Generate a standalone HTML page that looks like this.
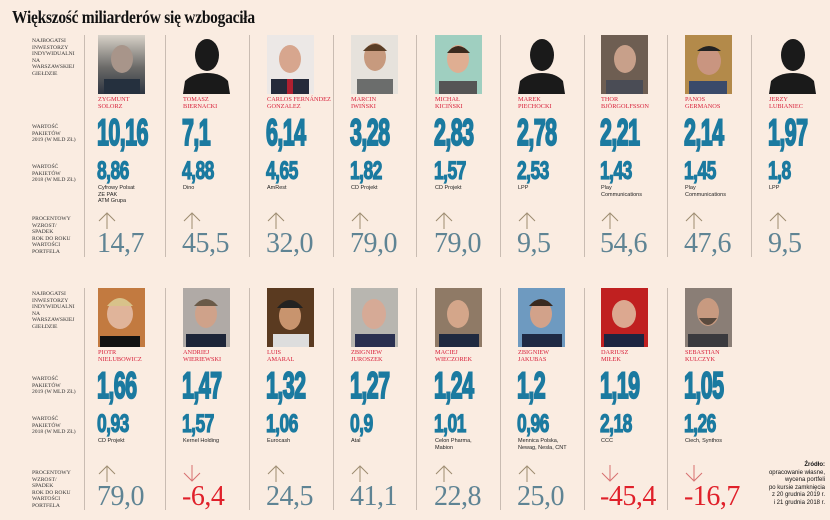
<!DOCTYPE html>
<html><head><meta charset="utf-8"><style>
body{margin:0;background:#faece1;}
#w{position:relative;width:830px;height:520px;overflow:hidden;background:#faece1;font-family:"Liberation Serif",serif;}
.t{position:absolute;left:12px;top:7px;font:bold 18px "Liberation Serif",serif;color:#111;letter-spacing:-0.3px;transform:scaleX(0.86);transform-origin:left;white-space:nowrap}
.lab{position:absolute;left:32px;font:5.6px/6.6px "Liberation Serif",serif;color:#333;text-transform:uppercase}
.ln{position:absolute;width:1px;background:#c9bcb2}
.col{position:absolute;width:80px}
.ph{position:absolute;left:0;top:0;width:47px;height:59px;overflow:hidden}
.nm{position:absolute;left:0;top:62px;font:6.3px/6.8px "Liberation Serif",serif;color:#d8203a;text-transform:uppercase;white-space:nowrap}
.b{position:absolute;left:-1px;top:79px;font:bold 37px/37px "Liberation Sans",sans-serif;color:#1b7aa0;letter-spacing:-1px;transform:scaleX(0.58);transform-origin:left;white-space:nowrap;-webkit-text-stroke:2px #1b7aa0}
.m{position:absolute;left:-1px;top:124px;font:bold 25px/25px "Liberation Sans",sans-serif;color:#1b7aa0;letter-spacing:-0.8px;transform:scaleX(0.7);transform-origin:left;white-space:nowrap;-webkit-text-stroke:1.2px #1b7aa0}
.c{position:absolute;left:0;top:150px;font:5.5px/6.6px "Liberation Sans",sans-serif;color:#222}
.ar{position:absolute;left:0;top:177px;width:18px;height:17px}
.p{position:absolute;left:-1px;top:195px;font:28px/28px "Liberation Serif",serif;color:#5f8494;letter-spacing:-0.5px}
.p.r{color:#e0202a}
.src{position:absolute;right:5px;top:462px;font:6px/7.6px "Liberation Sans",sans-serif;color:#111;text-align:right}
</style></head><body><div id="w">
<div class="t">Większość miliarderów się wzbogaciła</div>

<div class="lab" style="top:38px">Najbogatsi<br>inwestorzy<br>indywidualni<br>na<br>warszawskiej<br>giełdzie</div>
<div class="lab" style="top:124px">Wartość<br>pakietów<br>2019 (w mld zł)</div>
<div class="lab" style="top:164px">Wartość<br>pakietów<br>2018 (w mld zł)</div>
<div class="lab" style="top:216px">Procentowy<br>wzrost/<br>spadek<br>rok do roku<br>wartości<br>portfela</div>

<div class="lab" style="top:291px">Najbogatsi<br>inwestorzy<br>indywidualni<br>na<br>warszawskiej<br>giełdzie</div>
<div class="lab" style="top:376px">Wartość<br>pakietów<br>2019 (w mld zł)</div>
<div class="lab" style="top:416px">Wartość<br>pakietów<br>2018 (w mld zł)</div>
<div class="lab" style="top:470px">Procentowy<br>wzrost/<br>spadek<br>rok do roku<br>wartości<br>portfela</div>

<div class="ln" style="left:84px;top:35px;height:222px"></div>
<div class="ln" style="left:165px;top:35px;height:222px"></div>
<div class="ln" style="left:249px;top:35px;height:222px"></div>
<div class="ln" style="left:333px;top:35px;height:222px"></div>
<div class="ln" style="left:416px;top:35px;height:222px"></div>
<div class="ln" style="left:500px;top:35px;height:222px"></div>
<div class="ln" style="left:584px;top:35px;height:222px"></div>
<div class="ln" style="left:667px;top:35px;height:222px"></div>
<div class="ln" style="left:751px;top:35px;height:222px"></div>

<div class="ln" style="left:84px;top:288px;height:222px"></div>
<div class="ln" style="left:165px;top:288px;height:222px"></div>
<div class="ln" style="left:249px;top:288px;height:222px"></div>
<div class="ln" style="left:333px;top:288px;height:222px"></div>
<div class="ln" style="left:416px;top:288px;height:222px"></div>
<div class="ln" style="left:500px;top:288px;height:222px"></div>
<div class="ln" style="left:584px;top:288px;height:222px"></div>
<div class="ln" style="left:667px;top:288px;height:222px"></div>

<!-- row 1 -->
<div class="col" style="left:98px;top:35px">
<div class="ph" style="background:linear-gradient(#d8d2c8,#6b6a68 55%,#2d3440)"><svg width="47" height="59"><ellipse cx="24" cy="24" rx="11" ry="14" fill="#a8958a"/><rect x="6" y="44" width="36" height="15" fill="#25303e"/></svg></div>
<div class="nm">Zygmunt<br>Solorz</div><div class="b">10,16</div><div class="m">8,86</div>
<div class="c">Cyfrowy Polsat<br>ZE PAK<br>ATM Grupa</div><svg class="ar"><path d="M9 17V2M1 9L9 1L17 9" stroke="#9d8c70" fill="none" stroke-width="1"/></svg><div class="p">14,7</div></div>

<div class="col" style="left:183px;top:35px">
<div class="ph"><svg width="47" height="59"><ellipse cx="24" cy="20" rx="12" ry="16" fill="#1a1a1a"/><path d="M0 59 L2 46 Q10 38 24 38 Q38 38 45 46 L47 59Z" fill="#1a1a1a"/></svg></div>
<div class="nm">Tomasz<br>Biernacki</div><div class="b">7,1</div><div class="m">4,88</div>
<div class="c">Dino</div><svg class="ar"><path d="M9 17V2M1 9L9 1L17 9" stroke="#9d8c70" fill="none" stroke-width="1"/></svg><div class="p">45,5</div></div>

<div class="col" style="left:267px;top:35px">
<div class="ph" style="background:#ece8e6"><svg width="47" height="59"><ellipse cx="23" cy="24" rx="11" ry="14" fill="#d7a68e"/><rect x="4" y="44" width="38" height="15" fill="#252a3a"/><rect x="20" y="44" width="6" height="15" fill="#b02030"/></svg></div>
<div class="nm">Carlos Fernández<br>Gonzalez</div><div class="b">6,14</div><div class="m">4,65</div>
<div class="c">AmRest</div><svg class="ar"><path d="M9 17V2M1 9L9 1L17 9" stroke="#9d8c70" fill="none" stroke-width="1"/></svg><div class="p">32,0</div></div>

<div class="col" style="left:351px;top:35px">
<div class="ph" style="background:#e6e2dc"><svg width="47" height="59"><ellipse cx="24" cy="22" rx="11" ry="14" fill="#c79a7e"/><path d="M12 16 Q24 2 36 16" fill="#5a3e26"/><rect x="6" y="44" width="36" height="15" fill="#6b6d6c"/></svg></div>
<div class="nm">Marcin<br>Iwiński</div><div class="b">3,28</div><div class="m">1,82</div>
<div class="c">CD Projekt</div><svg class="ar"><path d="M9 17V2M1 9L9 1L17 9" stroke="#9d8c70" fill="none" stroke-width="1"/></svg><div class="p">79,0</div></div>

<div class="col" style="left:435px;top:35px">
<div class="ph" style="background:#9fcfc0"><svg width="47" height="59"><ellipse cx="23" cy="24" rx="11" ry="14" fill="#dfae92"/><path d="M12 18 Q23 4 35 18" fill="#3b2a1e"/><rect x="4" y="46" width="38" height="13" fill="#555"/></svg></div>
<div class="nm">Michał<br>Kiciński</div><div class="b">2,83</div><div class="m">1,57</div>
<div class="c">CD Projekt</div><svg class="ar"><path d="M9 17V2M1 9L9 1L17 9" stroke="#9d8c70" fill="none" stroke-width="1"/></svg><div class="p">79,0</div></div>

<div class="col" style="left:518px;top:35px">
<div class="ph"><svg width="47" height="59"><ellipse cx="24" cy="20" rx="12" ry="16" fill="#1a1a1a"/><path d="M0 59 L2 46 Q10 38 24 38 Q38 38 45 46 L47 59Z" fill="#1a1a1a"/></svg></div>
<div class="nm">Marek<br>Piechocki</div><div class="b">2,78</div><div class="m">2,53</div>
<div class="c">LPP</div><svg class="ar"><path d="M9 17V2M1 9L9 1L17 9" stroke="#9d8c70" fill="none" stroke-width="1"/></svg><div class="p">9,5</div></div>

<div class="col" style="left:601px;top:35px">
<div class="ph" style="background:#6e5e52"><svg width="47" height="59"><ellipse cx="24" cy="24" rx="11" ry="14" fill="#c8a08a"/><rect x="5" y="45" width="37" height="14" fill="#4a4c55"/></svg></div>
<div class="nm">Thor<br>Björgolfsson</div><div class="b">2,21</div><div class="m">1,43</div>
<div class="c">Play<br>Communications</div><svg class="ar"><path d="M9 17V2M1 9L9 1L17 9" stroke="#9d8c70" fill="none" stroke-width="1"/></svg><div class="p">54,6</div></div>

<div class="col" style="left:685px;top:35px">
<div class="ph" style="background:#b38a4a"><svg width="47" height="59"><ellipse cx="24" cy="26" rx="12" ry="14" fill="#c99580"/><path d="M12 16 Q24 6 36 16" fill="#222"/><rect x="4" y="46" width="38" height="13" fill="#3a4a6a"/></svg></div>
<div class="nm">Panos<br>Germanos</div><div class="b">2,14</div><div class="m">1,45</div>
<div class="c">Play<br>Communications</div><svg class="ar"><path d="M9 17V2M1 9L9 1L17 9" stroke="#9d8c70" fill="none" stroke-width="1"/></svg><div class="p">47,6</div></div>

<div class="col" style="left:769px;top:35px">
<div class="ph"><svg width="47" height="59"><ellipse cx="24" cy="20" rx="12" ry="16" fill="#1a1a1a"/><path d="M0 59 L2 46 Q10 38 24 38 Q38 38 45 46 L47 59Z" fill="#1a1a1a"/></svg></div>
<div class="nm">Jerzy<br>Lubianiec</div><div class="b">1,97</div><div class="m">1,8</div>
<div class="c">LPP</div><svg class="ar"><path d="M9 17V2M1 9L9 1L17 9" stroke="#9d8c70" fill="none" stroke-width="1"/></svg><div class="p">9,5</div></div>

<!-- row 2 -->
<div class="col" style="left:98px;top:288px">
<div class="ph" style="background:#c27a40"><svg width="47" height="59"><ellipse cx="22" cy="26" rx="13" ry="15" fill="#e0b49a"/><path d="M9 18 Q22 2 35 18" fill="#d8c28a"/><rect x="2" y="48" width="40" height="11" fill="#111"/></svg></div>
<div class="nm">Piotr<br>Nielubowicz</div><div class="b">1,66</div><div class="m">0,93</div>
<div class="c">CD Projekt</div><svg class="ar"><path d="M9 17V2M1 9L9 1L17 9" stroke="#9d8c70" fill="none" stroke-width="1"/></svg><div class="p">79,0</div></div>

<div class="col" style="left:183px;top:288px">
<div class="ph" style="background:#b0aaa6"><svg width="47" height="59"><ellipse cx="23" cy="26" rx="11" ry="14" fill="#cfa28a"/><path d="M11 18 Q23 4 35 18" fill="#6a5a48"/><rect x="3" y="46" width="40" height="13" fill="#1d2538"/></svg></div>
<div class="nm">Andriej<br>Wieriewski</div><div class="b">1,47</div><div class="m">1,57</div>
<div class="c">Kernel Holding</div><svg class="ar"><path d="M9 0V15M1 8L9 16L17 8" stroke="#d87070" fill="none" stroke-width="1"/></svg><div class="p r">-6,4</div></div>

<div class="col" style="left:267px;top:288px">
<div class="ph" style="background:#5a3a20"><svg width="47" height="59"><ellipse cx="23" cy="28" rx="11" ry="14" fill="#c8946e"/><path d="M10 20 Q23 4 36 20" fill="#222"/><rect x="6" y="46" width="36" height="13" fill="#ddd"/></svg></div>
<div class="nm">Luis<br>Amaral</div><div class="b">1,32</div><div class="m">1,06</div>
<div class="c">Eurocash</div><svg class="ar"><path d="M9 17V2M1 9L9 1L17 9" stroke="#9d8c70" fill="none" stroke-width="1"/></svg><div class="p">24,5</div></div>

<div class="col" style="left:351px;top:288px">
<div class="ph" style="background:#b8b6b0"><svg width="47" height="59"><ellipse cx="23" cy="26" rx="12" ry="15" fill="#d6aa96"/><rect x="4" y="46" width="40" height="13" fill="#2a3050"/></svg></div>
<div class="nm">Zbigniew<br>Juroszek</div><div class="b">1,27</div><div class="m">0,9</div>
<div class="c">Atal</div><svg class="ar"><path d="M9 17V2M1 9L9 1L17 9" stroke="#9d8c70" fill="none" stroke-width="1"/></svg><div class="p">41,1</div></div>

<div class="col" style="left:435px;top:288px">
<div class="ph" style="background:#8f7a66"><svg width="47" height="59"><ellipse cx="23" cy="26" rx="11" ry="14" fill="#d4a68a"/><rect x="4" y="46" width="40" height="13" fill="#1f2a40"/></svg></div>
<div class="nm">Maciej<br>Wieczorek</div><div class="b">1,24</div><div class="m">1,01</div>
<div class="c">Celon Pharma,<br>Mabion</div><svg class="ar"><path d="M9 17V2M1 9L9 1L17 9" stroke="#9d8c70" fill="none" stroke-width="1"/></svg><div class="p">22,8</div></div>

<div class="col" style="left:518px;top:288px">
<div class="ph" style="background:#6e9ac0"><svg width="47" height="59"><ellipse cx="23" cy="26" rx="11" ry="14" fill="#d2a28a"/><path d="M11 18 Q23 4 35 18" fill="#3a2a20"/><rect x="4" y="46" width="40" height="13" fill="#1f2a44"/></svg></div>
<div class="nm">Zbigniew<br>Jakubas</div><div class="b">1,2</div><div class="m">0,96</div>
<div class="c">Mennica Polska,<br>Newag, Nesla, CNT</div><svg class="ar"><path d="M9 17V2M1 9L9 1L17 9" stroke="#9d8c70" fill="none" stroke-width="1"/></svg><div class="p">25,0</div></div>

<div class="col" style="left:601px;top:288px">
<div class="ph" style="background:#c02020"><svg width="47" height="59"><ellipse cx="23" cy="26" rx="12" ry="14" fill="#dca890"/><rect x="3" y="46" width="40" height="13" fill="#1d2540"/></svg></div>
<div class="nm">Dariusz<br>Miłek</div><div class="b">1,19</div><div class="m">2,18</div>
<div class="c">CCC</div><svg class="ar"><path d="M9 0V15M1 8L9 16L17 8" stroke="#d87070" fill="none" stroke-width="1"/></svg><div class="p r">-45,4</div></div>

<div class="col" style="left:685px;top:288px">
<div class="ph" style="background:#8a7e76"><svg width="47" height="59"><ellipse cx="23" cy="24" rx="11" ry="14" fill="#c89a80"/><path d="M14 30 Q23 44 32 30" fill="#5a4a3e"/><rect x="3" y="46" width="40" height="13" fill="#3a3a3e"/></svg></div>
<div class="nm">Sebastian<br>Kulczyk</div><div class="b">1,05</div><div class="m">1,26</div>
<div class="c">Ciech, Synthos</div><svg class="ar"><path d="M9 0V15M1 8L9 16L17 8" stroke="#d87070" fill="none" stroke-width="1"/></svg><div class="p r">-16,7</div></div>

<div class="src"><b>Źródło:</b><br>opracowanie własne,<br>wycena portfeli<br>po kursie zamknięcia<br>z 20 grudnia 2019 r.<br>i 21 grudnia 2018 r.</div>
</div></body></html>
